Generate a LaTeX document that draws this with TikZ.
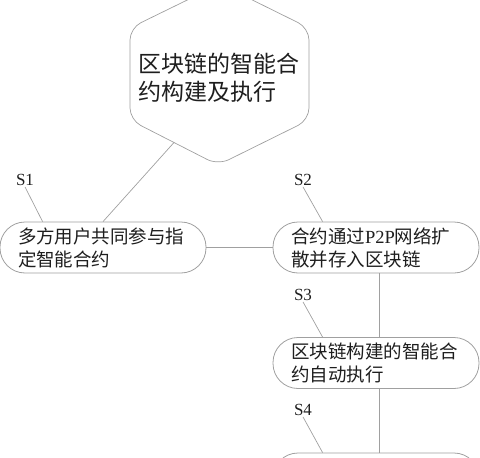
\documentclass[tikz,border=0pt]{standalone}
\usepackage{fontspec}
\setmainfont{Liberation Serif}
\newfontfamily\cjk{Noto Sans CJK SC}
\usetikzlibrary{calc, positioning}
\definecolor{linegray}{RGB}{160,160,160}
\definecolor{textblack}{RGB}{30,30,30}
\tikzset{
  stepbox/.style={draw=linegray, line width=0.8pt, rounded corners=25pt,
    minimum width=206pt, minimum height=51pt, text width=170pt, inner xsep=18pt,
    align=left, text=textblack, font=\cjk\fontsize{18.5}{23}\selectfont},
  link/.style={draw=linegray, line width=0.7pt},
  steplabel/.style={inner sep=1pt, text=textblack, font=\fontsize{17}{17}\selectfont}
}

\begin{document}
\begin{tikzpicture}[x=1pt, y=-1pt]
\useasboundingbox (0,0) rectangle (480,458);
\clip (0,0) rectangle (480,458);

\coordinate (T) at (220,-16);
\coordinate (UR) at (309,28);
\coordinate (LR) at (309,120);
\coordinate (B) at (218,165);
\coordinate (LL) at (130,120);
\coordinate (UL) at (130,28);
\coordinate (hexfoot) at ($(LL)!0.5!(B)$);

\draw[link, rounded corners=12pt] (T) -- (UR) -- (LR) -- (B) -- (LL) -- (UL) -- cycle;
\node[align=left, text=textblack, font=\cjk\fontsize{23}{28}\selectfont] (title) at (219,78)
    {区块链的智能合\\约构建及执行};

\node[stepbox] (n1) at (103,247.5) {多方用户共同参与指\\定智能合约};
\node[stepbox] (n2) at (376,247.5) {合约通过{\rmfamily P2P}网络扩\\散并存入区块链};
\node[stepbox] (n3) at (376,363) {区块链构建的智能合\\约自动执行};
\node[stepbox] (n4) at (376,478.5) {};

\node[steplabel] (s1) at (25,180) {S1};
\node[steplabel] (s2) at (303,180) {S2};
\node[steplabel] (s3) at (303,295) {S3};
\node[steplabel] (s4) at (303,410) {S4};

\coordinate (t1) at ($(n1.north west)+(43,0)$);
\coordinate (t2) at ($(n2.north west)+(50,0)$);
\coordinate (t3) at ($(n3.north west)+(50,0)$);
\coordinate (t4) at ($(n4.north west)+(50,0)$);

\draw[link] (hexfoot) -- (n1.north);
\draw[link] (n1) -- (n2);
\draw[link] ([xshift=3pt]n2.south) -- ([xshift=3pt]n3.north);
\draw[link] ([xshift=3pt]n3.south) -- ([xshift=3pt]n4.north);
\draw[link] (s1.south) -- (t1);
\draw[link] (s2.south) -- (t2);
\draw[link] (s3.south) -- (t3);
\draw[link] (s4.south) -- (t4);
\end{tikzpicture}
\end{document}
